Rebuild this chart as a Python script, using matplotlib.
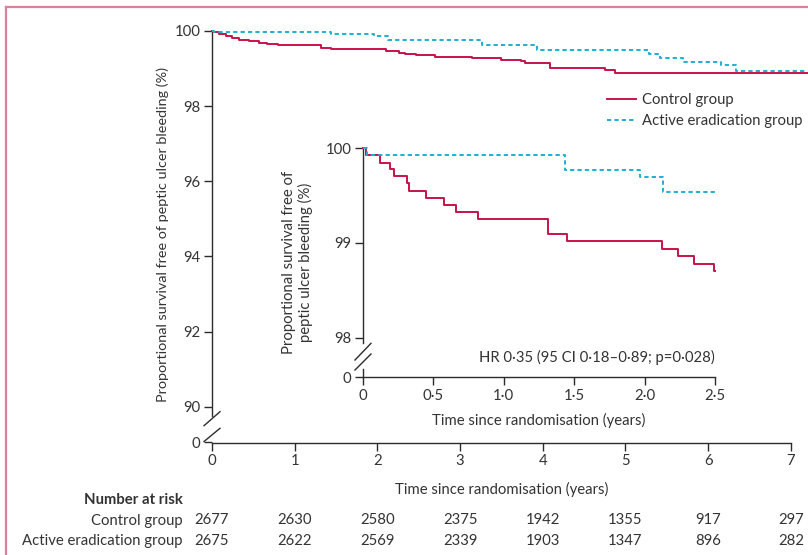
import matplotlib
matplotlib.use("Agg")
import matplotlib.pyplot as plt
from matplotlib.lines import Line2D
import matplotlib.transforms as mtransforms

plt.rcParams['font.family'] = ['Lato', 'DejaVu Sans']

# ---------------- data ----------------
# Main Kaplan-Meier curves (years, % free of peptic ulcer bleeding)
control_t = [0, 0.01, 0.087, 0.164, 0.24, 0.327, 0.445, 0.572, 0.664, 0.802, 1.313, 1.441,
             2.105, 2.258, 2.335, 2.47, 2.70, 3.15, 3.49, 3.74, 3.79, 4.09, 4.75, 4.87, 7.2]
control_v = [100, 99.97, 99.93, 99.88, 99.81, 99.77, 99.73, 99.69, 99.65, 99.62, 99.56, 99.51,
             99.47, 99.42, 99.40, 99.35, 99.31, 99.27, 99.22, 99.19, 99.15, 99.02, 98.96, 98.87, 98.87]
active_t = [0, 0.03, 1.44, 1.96, 2.13, 3.27, 3.93, 5.28, 5.42, 5.69, 6.15, 6.34, 7.2]
active_v = [100, 99.97, 99.91, 99.86, 99.77, 99.62, 99.50, 99.40, 99.29, 99.18, 99.09, 98.93, 98.93]

# Inset curves
in_control_t = [0, 0.02, 0.12, 0.19, 0.22, 0.31, 0.33, 0.447, 0.575, 0.658, 0.815, 1.316,
                1.447, 2.126, 2.235, 2.35, 2.49, 2.5]
in_control_v = [100, 99.93, 99.85, 99.78, 99.71, 99.63, 99.55, 99.47, 99.40, 99.33, 99.25, 99.10,
                99.02, 98.94, 98.86, 98.78, 98.70, 98.70]
in_active_t = [0, 0.03, 1.435, 1.97, 2.128, 2.5]
in_active_v = [100, 99.93, 99.77, 99.70, 99.54, 99.54]

main_xticks = [0, 1, 2, 3, 4, 5, 6, 7]
main_yticks = [90, 92, 94, 96, 98, 100]
inset_xticks = [0, 0.5, 1.0, 1.5, 2.0, 2.5]
inset_xticklabels = ['0', '0·5', '1·0', '1·5', '2·0', '2·5']
inset_yticks = [98, 99, 100]

risk_years = [0, 1, 2, 3, 4, 5, 6, 7]
risk_control = [2677, 2630, 2580, 2375, 1942, 1355, 917, 297]
risk_active = [2675, 2622, 2569, 2339, 1903, 1347, 896, 282]

labels = ['Control group', 'Active eradication group']
hr_text = 'HR 0·35 (95 CI 0·18–0·89; p=0·028)'

# ---------------- style ----------------
RED = '#C8124A'
CYAN = '#1EAFD2'
AX = '#2b2b2b'
TXT = '#333333'
FS = 10.7
W, H = 808, 555

fig = plt.figure(figsize=(W / 100, H / 100), dpi=100)

def fx(px):
    return px / W

def fy(py):
    return 1 - py / H

# frame lines
fig.add_artist(Line2D([fx(5.5), fx(5.5)], [0, fy(6.5)], color='#D9809B', lw=1.6, transform=fig.transFigure))
fig.add_artist(Line2D([fx(5.5), 1], [fy(6.5), fy(6.5)], color='#D9809B', lw=1.6, transform=fig.transFigure))

# ---------------- main axes ----------------
ybot = 89.05
AH = 442.5 - 31
ax = fig.add_axes([fx(212), fy(442.5), fx(595.4), AH / H])
ax.set_xlim(0, 7.2)
ax.set_ylim(ybot, 100)
ax.patch.set_alpha(0)
for s in ['top', 'right']:
    ax.spines[s].set_visible(False)
for s in ['left', 'bottom']:
    ax.spines[s].set_color(AX)
    ax.spines[s].set_linewidth(1.0)
ax.spines['bottom'].set_bounds(0, 7)
ax.spines['left'].set_bounds(89.75, 100)

ax.step(control_t, control_v, where='post', color=RED, lw=1.4, clip_on=False, zorder=3)
ax.step(active_t, active_v, where='post', color=CYAN, lw=1.4, ls=(0, (2.2, 1.6)), clip_on=False, zorder=3)

ax.set_xticks(main_xticks)
ax.set_xticklabels([str(v) for v in main_xticks])
ax.set_yticks([ybot] + main_yticks)
ax.set_yticklabels(['0'] + [str(v) for v in main_yticks])
ax.tick_params(axis='both', direction='out', length=5.5, width=1.0, color=AX,
               labelsize=FS, labelcolor=TXT, pad=3)

# break marks on main y axis
brk = dict(color=AX, lw=1.0, transform=ax.transAxes, clip_on=False)
dx = 8 / 595.4
ax.add_line(Line2D([-dx, dx], [(442.5 - 425.7) / AH, (442.5 - 411.7) / AH], **brk))
ax.add_line(Line2D([-dx, dx], [(442.5 - 441.5) / AH, (442.5 - 428.3) / AH], **brk))

ax.set_xlabel('Time since randomisation (years)', fontsize=FS, color=TXT)
ax.xaxis.set_label_coords(3.5 / 7.2, (442.5 - 482) / AH)
ax.set_ylabel('Proportional survival free of peptic ulcer bleeding (%)', fontsize=FS - 0.3, color=TXT)
ax.yaxis.set_label_coords((169 - 212) / 595.4, (442.5 - 234) / AH)

handles = [Line2D([], [], color=RED, lw=1.4),
           Line2D([], [], color=CYAN, lw=1.4, ls=(0, (2.2, 1.6)))]
leg = fig.legend(handles, labels, loc='upper left', bbox_to_anchor=(fx(607), fy(93)),
                 bbox_transform=fig.transFigure, frameon=False, fontsize=FS,
                 handlelength=1.95, handletextpad=0.4, labelspacing=0.5,
                 borderpad=0, borderaxespad=0)
for t in leg.get_texts():
    t.set_color(TXT)

# number at risk
trans = mtransforms.blended_transform_factory(ax.transData, fig.transFigure)
fig.text(fx(183), fy(500), 'Number at risk', ha='right', va='center', fontsize=FS,
         fontweight='bold', color=TXT)
fig.text(fx(183), fy(520.5), labels[0], ha='right', va='center', fontsize=FS, color=TXT)
fig.text(fx(183), fy(541), labels[1], ha='right', va='center', fontsize=FS, color=TXT)
for yr, c, a in zip(risk_years, risk_control, risk_active):
    ax.text(yr, fy(520.5), str(c), transform=trans, ha='center', va='center', fontsize=FS, color=TXT)
    ax.text(yr, fy(541), str(a), transform=trans, ha='center', va='center', fontsize=FS, color=TXT)

# ---------------- inset axes ----------------
ibot = 97.585
ih = 377 - 148.3
ins = fig.add_axes([fx(363), fy(377), fx(352), ih / H])
ins.set_xlim(0, 2.5)
ins.set_ylim(ibot, 100)
ins.patch.set_alpha(0)
for s in ['top', 'right']:
    ins.spines[s].set_visible(False)
for s in ['left', 'bottom']:
    ins.spines[s].set_color(AX)
    ins.spines[s].set_linewidth(1.0)
ins.spines['left'].set_bounds(97.94, 100)

ins.step(in_control_t, in_control_v, where='post', color=RED, lw=1.4, clip_on=False, zorder=3)
ins.step(in_active_t, in_active_v, where='post', color=CYAN, lw=1.4, ls=(0, (2.2, 1.6)), clip_on=False, zorder=3)

ins.set_xticks(inset_xticks)
ins.set_xticklabels(inset_xticklabels)
ins.set_yticks([ibot] + inset_yticks)
ins.set_yticklabels(['0'] + [str(v) for v in inset_yticks])
ins.tick_params(axis='both', direction='out', length=5.5, width=1.0, color=AX,
                labelsize=FS, labelcolor=TXT, pad=3)

ibrk = dict(color=AX, lw=1.0, transform=ins.transAxes, clip_on=False)
idx = 8 / 352
ins.add_line(Line2D([-idx, idx], [(377 - 360) / ih, (377 - 343.3) / ih], **ibrk))
ins.add_line(Line2D([-idx, idx], [(377 - 370) / ih, (377 - 354) / ih], **ibrk))
ins.add_line(Line2D([0, 0], [0, (377 - 369) / ih], **ibrk))

ins.text(1.0, (377 - 357) / ih, hr_text, transform=ins.transAxes, ha='right', va='center',
         fontsize=FS, color=TXT)
ins.set_xlabel('Time since randomisation (years)', fontsize=FS, color=TXT)
ins.xaxis.set_label_coords(0.5, (377 - 413) / ih)
ins.set_ylabel('Proportional survival free of\npeptic ulcer bleeding (%)', fontsize=FS,
               color=TXT, linespacing=1.2)
ins.yaxis.set_label_coords((313 - 363) / 352, (377 - 262) / ih)

fig.savefig('out.png', dpi=100)
